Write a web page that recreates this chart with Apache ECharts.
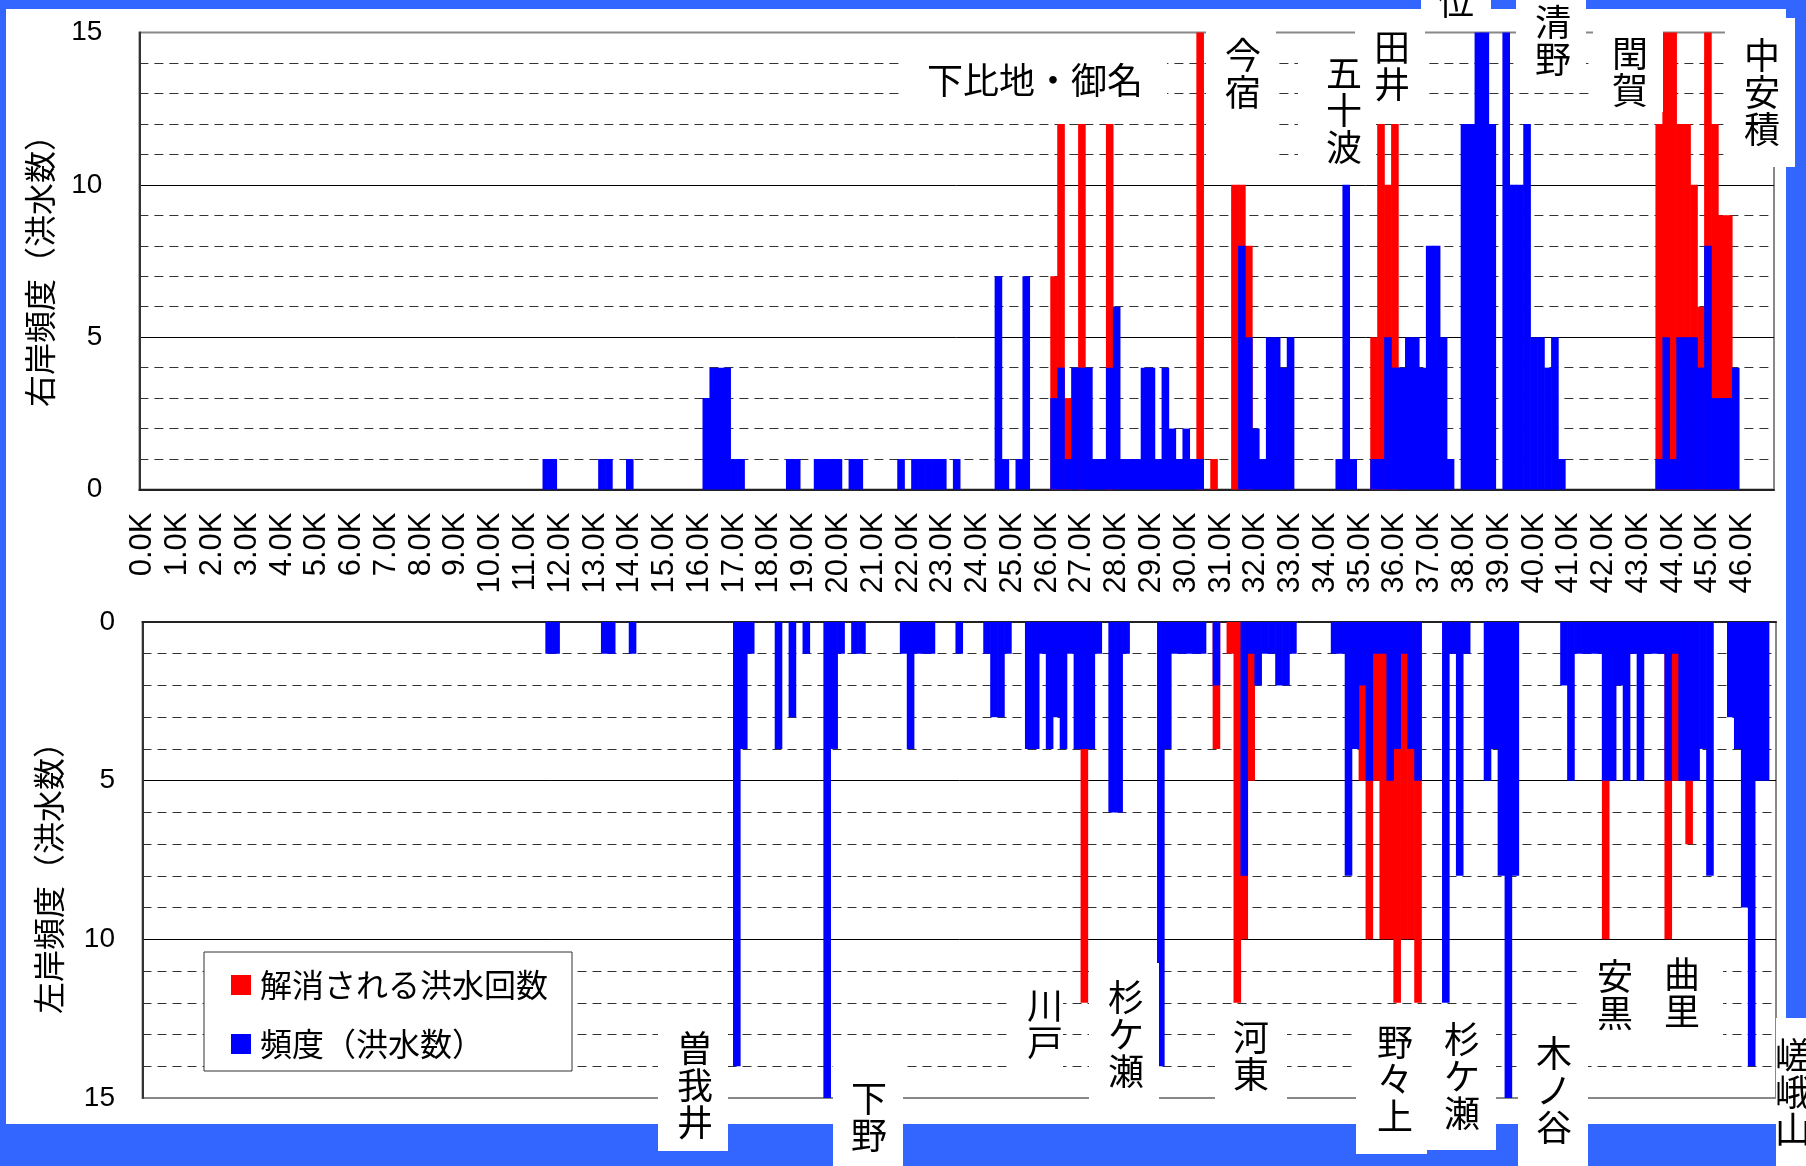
<!DOCTYPE html>
<html>
<head>
<meta charset="utf-8">
<script src="https://cdn.jsdelivr.net/npm/echarts@6/dist/echarts.min.js"></script>
<style>
  html, body { margin: 0; padding: 0; background: #3366ff; }
  #chart { width: 1806px; height: 1166px; }
</style>
</head>
<body>
<div id="chart"></div>
<script>
// Distance markers along the river, every 0.2 km from 0.0K to 46.8K
const distances = Array.from({ length: 235 }, (_, i) => (i * 0.2).toFixed(1) + 'K');

// Right bank: number of floods reaching each section [km, count]
const rightFlood = [
  [11.6,1],[11.8,1],[13.2,1],[13.4,1],[14.0,1],
  [16.2,3],[16.4,4],[16.6,4],[16.8,4],[17.0,1],[17.2,1],
  [18.6,1],[18.8,1],[19.4,1],[19.6,1],[19.8,1],[20.0,1],[20.4,1],[20.6,1],
  [21.8,1],[22.2,1],[22.4,1],[22.6,1],[22.8,1],[23.0,1],[23.4,1],
  [24.6,7],[24.8,1],[25.2,1],[25.4,7],
  [26.2,3],[26.4,4],[26.6,1],[26.8,4],[27.0,4],[27.2,4],[27.4,1],[27.6,1],[27.8,4],
  [28.0,6],[28.2,1],[28.4,1],[28.6,1],[28.8,4],[29.0,4],[29.2,1],[29.4,4],[29.6,2],
  [29.8,1],[30.0,2],[30.2,1],[30.4,1],
  [31.6,8],[31.8,5],[32.0,2],[32.2,1],[32.4,5],[32.6,5],[32.8,4],[33.0,5],
  [34.4,1],[34.6,10],[34.8,1],
  [35.4,1],[35.6,1],[35.8,5],[36.0,4],[36.2,4],[36.4,5],[36.6,5],[36.8,4],
  [37.0,8],[37.2,8],[37.4,5],[37.6,1],
  [38.0,12],[38.2,12],[38.4,15],[38.6,15],[38.8,12],[39.2,15],[39.4,10],[39.6,10],
  [39.8,12],[40.0,5],[40.2,5],[40.4,4],[40.6,5],[40.8,1],
  [43.6,1],[43.8,5],[44.0,1],[44.2,5],[44.4,5],[44.6,5],[44.8,4],[45.0,8],
  [45.2,3],[45.4,3],[45.6,3],[45.8,4]
];

// Right bank: number of floods that are resolved [km, count]
const rightResolved = [
  [26.2,7],[26.4,12],[26.6,3],[27.0,12],[27.8,12],
  [30.4,15],[30.8,1],[31.4,10],[31.6,10],[31.8,8],
  [35.4,5],[35.6,12],[35.8,10],[36.0,12],
  [43.6,12],[43.8,15],[44.0,15],[44.2,12],[44.4,12],[44.6,10],[44.8,6],
  [45.0,15],[45.2,12],[45.4,9],[45.6,9]
];

// Left bank: number of floods reaching each section [km, count]
const leftFlood = [
  [11.6,1],[11.8,1],[13.2,1],[13.4,1],[14.0,1],
  [17.0,14],[17.2,4],[17.4,1],[18.2,4],[18.6,3],[19.0,1],
  [19.6,15],[19.8,4],[20.0,1],[20.4,1],[20.6,1],
  [21.8,1],[22.0,4],[22.2,1],[22.4,1],[22.6,1],[23.4,1],
  [24.2,1],[24.4,3],[24.6,3],[24.8,1],
  [25.4,4],[25.6,4],[25.8,1],[26.0,4],[26.2,3],[26.4,4],[26.6,1],
  [26.8,4],[27.0,4],[27.2,4],[27.4,1],[27.8,6],[28.0,6],[28.2,1],
  [29.2,14],[29.4,4],[29.6,1],[29.8,1],[30.0,1],[30.2,1],[30.4,1],[30.8,2],
  [31.6,8],[31.8,1],[32.0,2],[32.2,1],[32.4,1],[32.6,2],[32.8,2],[33.0,1],
  [34.2,1],[34.4,1],[34.6,8],[34.8,4],[35.0,2],[35.2,5],[35.4,1],[35.6,1],
  [35.8,5],[36.0,4],[36.2,1],[36.4,4],[36.6,5],
  [37.4,12],[37.6,1],[37.8,8],[38.0,1],
  [38.6,5],[38.8,4],[39.0,8],[39.2,15],[39.4,8],
  [40.8,2],[41.0,5],[41.2,1],[41.4,1],[41.6,1],[41.8,1],[42.0,5],[42.2,5],
  [42.4,2],[42.6,5],[42.8,1],[43.0,5],[43.2,1],[43.4,1],[43.6,1],[43.8,5],
  [44.0,1],[44.2,5],[44.4,5],[44.6,5],[44.8,4],[45.0,8],
  [45.6,3],[45.8,4],[46.0,9],[46.2,14],[46.4,5],[46.6,5]
];

// Left bank: number of floods that are resolved [km, count]
const leftResolved = [
  [27.0,12],[30.8,4],[31.2,1],[31.4,12],[31.6,10],[31.8,5],
  [35.0,5],[35.2,10],[35.4,5],[35.6,10],[35.8,10],[36.0,12],[36.2,10],
  [36.4,10],[36.6,12],
  [42.0,10],[43.8,10],[44.0,5],[44.4,7]
];

const yTicks = [0, 5, 10, 15];
const seriesNames = ['解消される洪水回数', '頻度（洪水数）'];
const axisTitles = ['右岸頻度（洪水数）', '左岸頻度（洪水数）'];

// Spread [km, count] pairs over the full list of distance markers
function toSeries(pairs) {
  const out = distances.map(() => null);
  pairs.forEach(([km, v]) => { out[Math.round(km * 5)] = v; });
  return out;
}

const CJK = '"Noto Sans CJK JP", sans-serif';
const LATIN = '"Liberation Sans", Arial, sans-serif';

// White tag boxes with place names
function tag(lines, box) {
  const els = [{
    type: 'rect', z: 100,
    shape: { x: box[0], y: box[1], width: box[2], height: box[3] },
    style: { fill: '#ffffff' }
  }];
  lines.forEach(l => {
    els.push({
      type: 'text', z: 101, x: l.x, y: l.y,
      style: {
        text: l.text, fontSize: 36, fontFamily: CJK, fill: '#000',
        lineHeight: 37, align: 'center', verticalAlign: 'middle'
      }
    });
  });
  return els;
}
const v = s => s.split('').join('\n');

const tags = [].concat(
  tag([{ text: '下比地・御名', x: 1035, y: 80 }], [900, 42, 267, 70]),
  tag([{ text: v('今宿'), x: 1243, y: 74 }], [1206, 9, 70, 161]),
  tag([{ text: v('五十波'), x: 1344, y: 110 }], [1298, 42, 78, 128]),
  tag([{ text: v('田井'), x: 1392, y: 66 }], [1355, 9, 70, 100]),
  tag([{ text: '位', x: 1456, y: 1 }], [1421, 0, 70, 28]),
  tag([{ text: v('清野'), x: 1553, y: 41 }], [1516, 0, 70, 86]),
  tag([{ text: v('閏賀'), x: 1630, y: 72 }], [1593, 12, 70, 100]),
  tag([{ text: v('中安積'), x: 1762, y: 92 }], [1725, 18, 70, 149]),
  tag([{ text: v('曽我井'), x: 695, y: 1085 }], [658, 1020, 70, 131]),
  tag([{ text: v('下野'), x: 869, y: 1117 }], [833, 1050, 70, 116]),
  tag([{ text: v('川戸'), x: 1045, y: 1024 }], [1010, 978, 53, 110]),
  tag([{ text: v('杉ケ瀬'), x: 1126, y: 1034 }], [1089, 963, 70, 152]),
  tag([{ text: v('河東'), x: 1251, y: 1056 }], [1215, 1012, 72, 100]),
  tag([{ text: v('野々上'), x: 1395, y: 1079 }], [1356, 1004, 71, 150]),
  tag([{ text: v('杉ケ瀬'), x: 1462, y: 1076 }], [1427, 1010, 69, 140]),
  tag([{ text: v('木ノ谷'), x: 1554, y: 1090 }], [1518, 1025, 70, 141]),
  tag([{ text: v('安黒'), x: 1615, y: 995 }, { text: v('曲里'), x: 1682, y: 993 }], [1577, 945, 146, 100]),
  tag([{ text: v('嵯峨山'), x: 1793, y: 1092 }], [1776, 1018, 30, 148])
);

function xAxisFor(gridIndex, showLabels) {
  return {
    type: 'category', gridIndex, data: distances, boundaryGap: true,
    position: gridIndex === 0 ? 'bottom' : 'top',
    axisLine: { lineStyle: { color: '#222', width: 2 } },
    axisTick: { inside: true, length: 8, interval: 0, lineStyle: { color: '#000', width: 1 } },
    axisLabel: showLabels ? {
      interval: 4, rotate: 90, margin: 23, fontSize: 31, fontFamily: LATIN, color: '#000'
    } : { show: false },
    splitLine: { show: false }
  };
}
function yAxisFor(gridIndex, inverse, margin) {
  return {
    type: 'value', gridIndex, min: yTicks[0], max: yTicks[yTicks.length - 1],
    interval: yTicks[1] - yTicks[0], inverse,
    axisLine: { show: true, lineStyle: { color: '#333', width: 2 } },
    axisTick: { show: false },
    axisLabel: { margin, fontSize: 28, fontFamily: LATIN, color: '#000' },
    splitLine: { show: true, showMinLine: false, showMaxLine: false, lineStyle: { color: '#000', width: 1 } },
    minorTick: { show: false, splitNumber: 5 },
    minorSplitLine: { show: true, lineStyle: { color: '#333', width: 1, type: [9, 6] } }
  };
}
// Bars are a touch wider than a 0.2 km section so neighbouring sections merge into one block
function bars(name, data, color, axisIndex) {
  return {
    name, type: 'bar', xAxisIndex: axisIndex, yAxisIndex: axisIndex,
    data: toSeries(data), barWidth: 7.6, barGap: '-100%',
    itemStyle: { color, borderWidth: 0 },
    emphasis: { disabled: true }, silent: true
  };
}

const chart = echarts.init(document.getElementById('chart'), null, { renderer: 'canvas' });
chart.setOption({
  animation: false,
  backgroundColor: '#3366ff',
  grid: [
    { left: 139.4, top: 32.5, width: 1634.6, height: 457, show: true, borderColor: '#888', borderWidth: 2, backgroundColor: 'transparent' },
    { left: 142.5, top: 622, width: 1633.5, height: 476, show: true, borderColor: '#888', borderWidth: 2, backgroundColor: 'transparent' }
  ],
  xAxis: [xAxisFor(0, true), xAxisFor(1, false)],
  yAxis: [yAxisFor(0, false, 37), yAxisFor(1, true, 27.5)],
  legend: {
    orient: 'vertical', left: 204, top: 952, padding: [17, 24, 11, 27],
    itemWidth: 20, itemHeight: 20, itemGap: 27, selectedMode: false,
    backgroundColor: '#fff', borderColor: '#333', borderWidth: 1,
    textStyle: { fontSize: 32, fontFamily: CJK, color: '#000', padding: [0, 0, 0, 4] },
    data: [{ name: seriesNames[0], icon: 'rect' }, { name: seriesNames[1], icon: 'rect' }]
  },
  series: [
    bars(seriesNames[0], rightResolved, '#ff0000', 0),
    bars(seriesNames[1], rightFlood, '#0000ff', 0),
    bars(seriesNames[0], leftResolved, '#ff0000', 1),
    bars(seriesNames[1], leftFlood, '#0000ff', 1)
  ],
  graphic: {
    elements: [
      { type: 'rect', z: -10, shape: { x: 6, y: 9, width: 1780, height: 1115 }, style: { fill: '#ffffff' } },
      { type: 'text', x: 40, y: 263, rotation: Math.PI / 2,
        style: { text: axisTitles[0], fontSize: 32, fontFamily: CJK, fill: '#000', align: 'center', verticalAlign: 'middle' } },
      { type: 'text', x: 49, y: 870, rotation: Math.PI / 2,
        style: { text: axisTitles[1], fontSize: 32, fontFamily: CJK, fill: '#000', align: 'center', verticalAlign: 'middle' } }
    ].concat(tags)
  }
});
</script>
</body>
</html>
